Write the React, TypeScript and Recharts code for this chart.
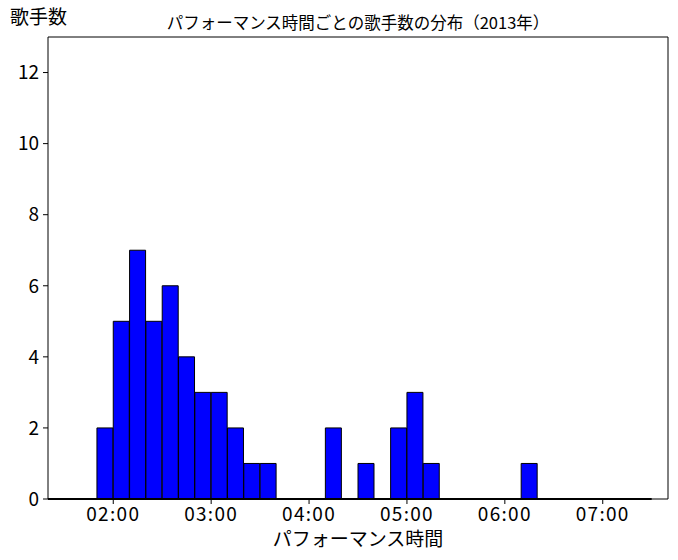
import React from 'react';
import { BarChart, Bar, XAxis, YAxis, ReferenceArea, ReferenceLine, Label } from 'recharts';

// histogram: 10-second bins from 01:20 to 07:30
const BIN_START = 80;
const BIN_WIDTH = 10;
const counts = [
  0, 0, 0, 2, 5, 7, 5, 6, 4, 3, 3, 2, 1, 1, 0, 0, 0, 2, 0, 1,
  0, 2, 3, 1, 0, 0, 0, 0, 0, 1, 0, 0, 0, 0, 0, 0, 0,
];
const xTicks = [120, 180, 240, 300, 360, 420];
const yTicks = [0, 2, 4, 6, 8, 10, 12];
const xDomain = [80, 460];
const yDomain = [0, 13];

const title = 'パフォーマンス時間ごとの歌手数の分布（2013年）';
const xLabel = 'パフォーマンス時間';
const yLabel = '歌手数';

const data = counts.map((count, i) => ({
  center: BIN_START + i * BIN_WIDTH + BIN_WIDTH / 2,
  count,
}));
const binEnd = BIN_START + counts.length * BIN_WIDTH;

const FONT = '"Noto Sans CJK JP", "Noto Sans", sans-serif';

const fmtTime = (s: number) => {
  const m = Math.floor(s / 60);
  const sec = Math.round(s % 60);
  return `${String(m).padStart(2, '0')}:${String(sec).padStart(2, '0')}`;
};

export default function App() {
  return (
    <div style={{ position: 'absolute', left: 0, top: 0, width: 678, height: 560, background: '#fff' }}>
      <BarChart
        width={678}
        height={560}
        data={data}
        margin={{ top: 37, right: 10, bottom: 21, left: 0 }}
        barCategoryGap={0}
        barGap={0}
        style={{ fontFamily: FONT }}
      >
        <XAxis
          dataKey="center"
          type="number"
          domain={xDomain}
          ticks={xTicks}
          tickFormatter={fmtTime}
          allowDataOverflow
          height={40}
          axisLine={false}
          tickLine={{ stroke: '#000' }}
          tickSize={5}
          tickMargin={4}
          tick={{ fontSize: 19, fill: '#000', fontFamily: FONT, letterSpacing: 1.3 }}
        >
          <Label
            content={({ viewBox }: any) => (
              <text
                x={viewBox.x + viewBox.width / 2}
                y={viewBox.y + 47}
                textAnchor="middle"
                fontSize={19}
                fill="#000"
                fontFamily={FONT}
              >
                {xLabel}
              </text>
            )}
          />
          <Label
            content={({ viewBox }: any) => (
              <text
                x={viewBox.x + viewBox.width / 2}
                y={29}
                textAnchor="middle"
                fontSize={16.5}
                fill="#000"
                fontFamily={FONT}
              >
                {title}
              </text>
            )}
          />
        </XAxis>
        <YAxis
          type="number"
          domain={yDomain}
          ticks={yTicks}
          allowDataOverflow
          width={48}
          axisLine={false}
          tickLine={{ stroke: '#000' }}
          tickSize={5}
          tickMargin={4}
          tick={{ fontSize: 19, fill: '#000', fontFamily: FONT }}
        >
          <Label
            content={({ viewBox }: any) => (
              <text x={10} y={viewBox.y - 13} fontSize={19} fill="#000" fontFamily={FONT}>
                {yLabel}
              </text>
            )}
          />
        </YAxis>
        <Bar
          dataKey="count"
          fill="#0000ff"
          stroke="#000"
          strokeWidth={1}
          isAnimationActive={false}
        />
        <ReferenceLine
          segment={[{ x: BIN_START, y: 0 }, { x: binEnd, y: 0 }]}
          stroke="#000"
          strokeWidth={2}
        />
        <ReferenceArea
          x1={xDomain[0]}
          x2={xDomain[1]}
          y1={yDomain[0]}
          y2={yDomain[1]}
          fill="none"
          fillOpacity={0}
          stroke="#000"
          strokeWidth={1}
          strokeOpacity={1}
        />
      </BarChart>
    </div>
  );
}
